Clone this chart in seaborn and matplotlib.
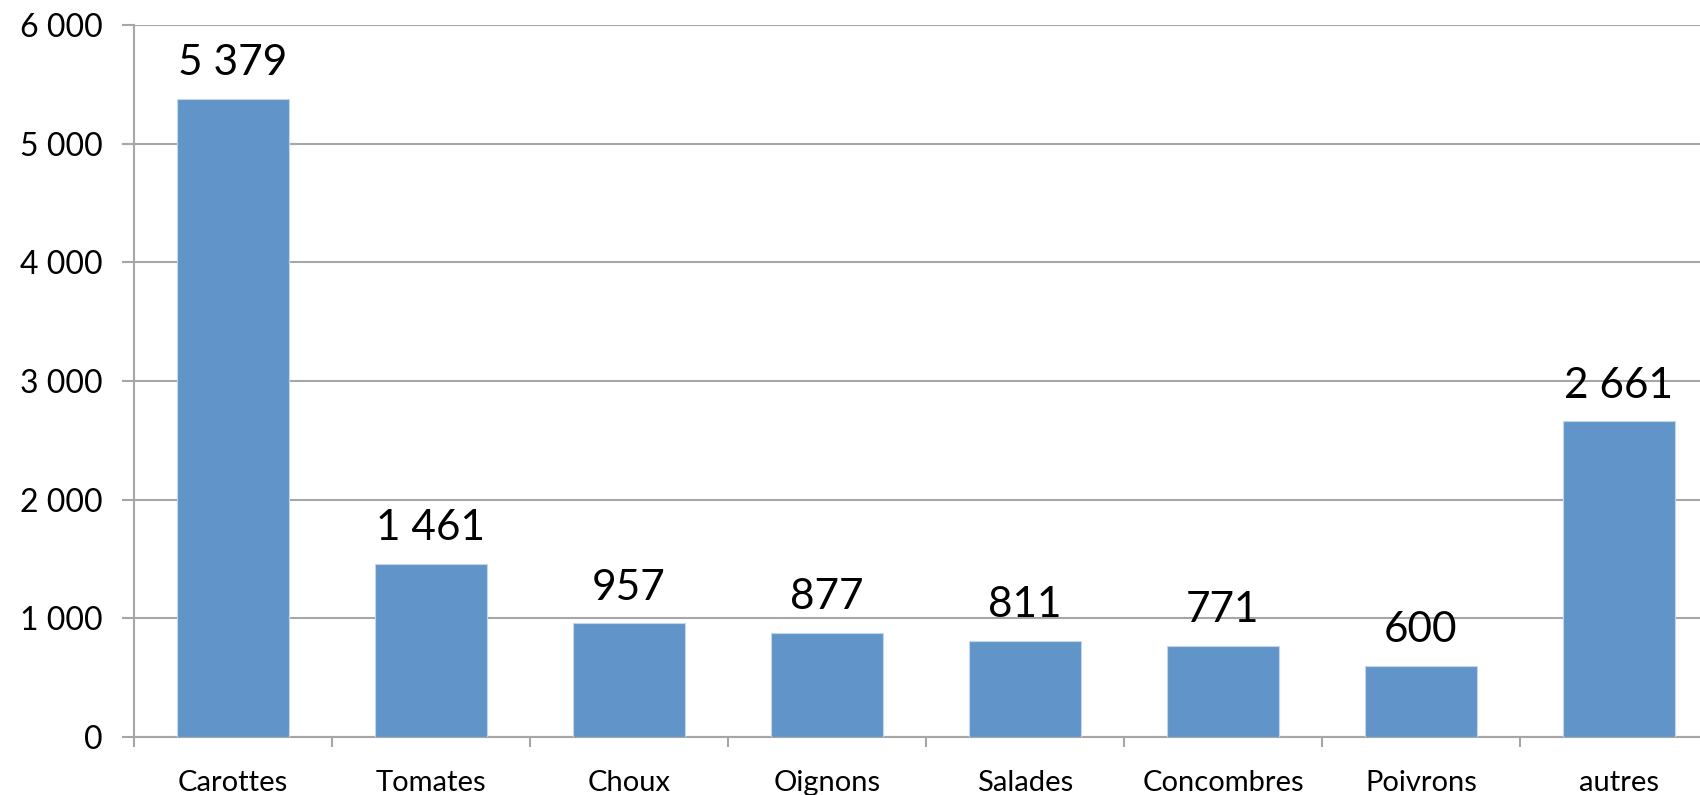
import matplotlib
matplotlib.use("Agg")
import matplotlib.pyplot as plt
from matplotlib.ticker import FuncFormatter, FixedLocator
import seaborn as sns
import pandas as pd

# ── Data ──────────────────────────────────────────────
categories = ["Carottes", "Tomates", "Choux", "Oignons", "Salades",
              "Concombres", "Poivrons", "autres"]
values     = [5379, 1461, 957, 877, 811, 771, 600, 2661]
y_ticks    = [0, 1000, 2000, 3000, 4000, 5000, 6000]

BAR_COLOR  = "#6195C9"
GRID_COLOR = "#A6A6A6"

def fr(v):
    return f"{int(v):,}".replace(",", " ")

# ── Style ─────────────────────────────────────────────
sns.set_style("white")
plt.rcParams["font.family"] = ["Lato", "DejaVu Sans"]

fig = plt.figure(figsize=(17, 7.95), dpi=100)
W, H = 1700, 795
left, right_px, top_px, zero_px = 134, 134 + 8 * 198, 25, 737
ax = fig.add_axes([left / W, (H - zero_px) / H,
                   (right_px - left) / W, (zero_px - top_px) / H])

df = pd.DataFrame({"cat": categories, "val": values})
sns.barplot(data=df, x="cat", y="val", color=BAR_COLOR, saturation=1,
            width=0.57, edgecolor="#C5D6EA", linewidth=0.8, ax=ax, zorder=3)

ax.set_xlim(-0.5, len(categories) - 0.5)
ax.set_ylim(0, 6000)
ax.set_xlabel("")
ax.set_ylabel("")

# gridlines & spines
ax.yaxis.set_major_locator(FixedLocator(y_ticks))
ax.yaxis.set_major_formatter(FuncFormatter(lambda v, p: fr(v)))
ax.grid(axis="y", color=GRID_COLOR, linewidth=1.5, zorder=0)
ax.grid(axis="x", visible=False)
for s in ["top", "right"]:
    ax.spines[s].set_visible(False)
for s in ["left", "bottom"]:
    ax.spines[s].set_color(GRID_COLOR)
    ax.spines[s].set_linewidth(1.5)

ax.tick_params(axis="y", which="major", direction="out", length=8.6, width=1.5,
               color=GRID_COLOR, pad=14, labelsize=23, labelcolor="black", left=True)
ax.tick_params(axis="x", which="major", length=0, pad=24, labelsize=21,
               labelcolor="black")
ax.set_xticks(range(len(categories)))
ax.set_xticklabels(categories)
ax.set_xticks([i - 0.5 for i in range(len(categories) + 1)], minor=True)
ax.tick_params(axis="x", which="minor", direction="out", length=7, width=1.5,
               color=GRID_COLOR, bottom=True)

# data labels
for i, v in enumerate(values):
    ax.annotate(fr(v), (i, v), xytext=(0, 17), textcoords="offset points",
                ha="center", va="baseline", fontsize=30.5, color="black", zorder=4)

fig.savefig("out.png", dpi=100)
